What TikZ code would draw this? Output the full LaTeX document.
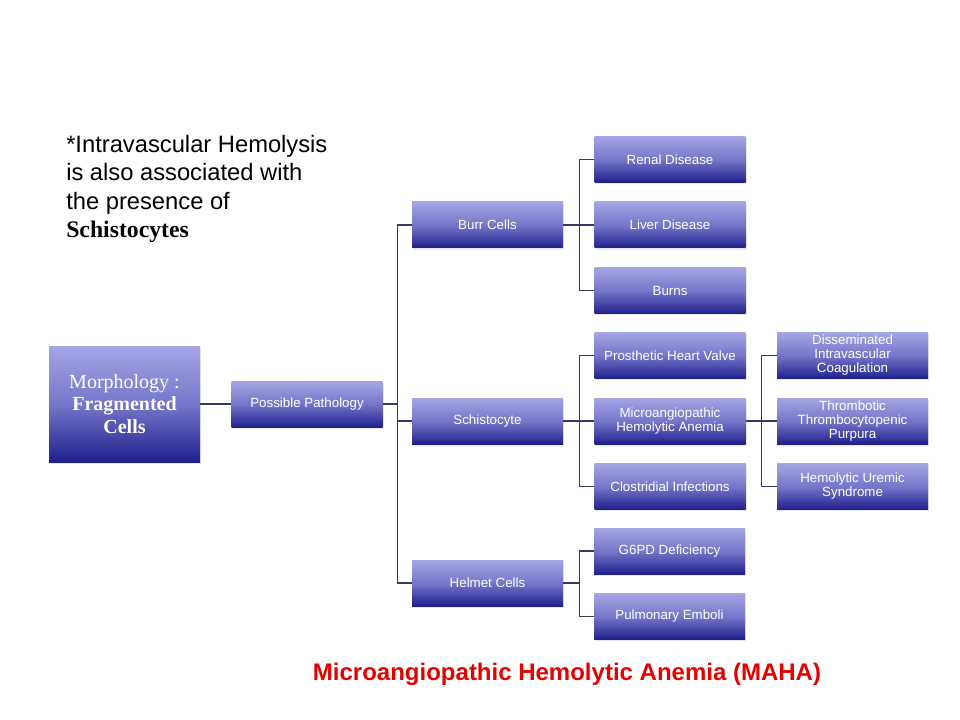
\documentclass[tikz,border=0pt]{standalone}
\usepackage{fontspec}
\setmainfont{Liberation Sans}
\newfontfamily\timesface{Liberation Serif}
\usetikzlibrary{positioning, shadows}
\definecolor{boxtop}{RGB}{165,165,228}
\definecolor{boxmid}{RGB}{118,118,202}
\definecolor{boxbot}{RGB}{32,32,140}
\definecolor{linkcol}{RGB}{55,55,105}
\definecolor{mahared}{RGB}{230,0,0}

\begin{document}
\begin{tikzpicture}[
			x=0.75pt, y=-0.75pt,
			block/.style={rectangle, top color=boxtop, bottom color=boxbot, middle color=boxmid, text=white, minimum width=113.25pt, minimum height=34.5pt, inner sep=1pt, align=center, font=\fontsize{10}{10.5}\selectfont, drop shadow={shadow xshift=1pt, shadow yshift=-1.2pt, opacity=0.18}},
			link/.style={draw=linkcol, line width=0.8pt},
			note/.style={inner sep=0pt, align=left, font=\fontsize{17.8}{21.25}\selectfont}
			]
			\useasboundingbox (0,0) rectangle (960,720);
			
			% Wurzel und Pathologie
			\node[block, minimum height=87pt, font=\timesface\fontsize{15}{17}\selectfont] (root) at (124.5,404) {Morphology :\\\textbf{Fragmented}\\\textbf{Cells}};
			\node[block, right=23.25pt of root] (path) {Possible Pathology};
			
			% Zelltypen
			\node[block] (burr) at (487.5,225) {Burr Cells};
			\node[block] (schi) at (487.5,421) {Schistocyte};
			\node[block] (helm) at (487.5,583) {Helmet Cells};
			
			% Ursachen
			\node[block, right=23.25pt of burr] (liver) {Liver Disease};
			\node[block, above=14.25pt of liver] (renal) {Renal Disease};
			\node[block, below=14.25pt of liver] (burns) {Burns};
			\node[block, right=23.25pt of schi] (maha) {Microangiopathic\\Hemolytic Anemia};
			\node[block, above=14.25pt of maha] (prost) {Prosthetic Heart Valve};
			\node[block, below=14.25pt of maha] (clos) {Clostridial Infections};
			\node[block] (g6pd) at (669.5,551) {G6PD Deficiency};
			\node[block, below=14.25pt of g6pd] (pulm) {Pulmonary Emboli};
			
			% MAHA-Formen
			\node[block, right=23.25pt of maha] (ttp) {Thrombotic\\Thrombocytopenic\\Purpura};
			\node[block, above=14.25pt of ttp] (dic) {Disseminated\\Intravascular\\Coagulation};
			\node[block, below=14.25pt of ttp] (hus) {Hemolytic Uremic\\Syndrome};
			
			% Verbindungen
			\draw[link] (root) -- (path);
			\coordinate (fork) at ([xshift=11.25pt]path.east);
			\draw[link] (path.east) -- (fork);
			\foreach \cell in {burr,schi,helm}
			\draw[link] (fork) |- (\cell.west);
			\foreach \cause in {renal,liver,burns}
			\draw[link] (burr.east) -- ++(16,0) |- (\cause.west);
			\foreach \cause in {prost,maha,clos}
			\draw[link] (schi.east) -- ++(16,0) |- (\cause.west);
			\foreach \cause in {g6pd,pulm}
			\draw[link] (helm.east) -- ++(16,0) |- (\cause.west);
			\foreach \form in {dic,ttp,hus}
			\draw[link] (maha.east) -- ++(16,0) |- (\form.west);
			
			% Texte
			\node[note, anchor=north west] (hint) at (66,135) {*Intravascular Hemolysis\\is also associated with\\the presence of\\{\timesface\bfseries Schistocytes}};
			\node[anchor=base, text=mahared, font=\fontsize{18}{21}\selectfont\bfseries] (title) at (567,680) {Microangiopathic Hemolytic Anemia (MAHA)};
		\end{tikzpicture}
\end{document}
